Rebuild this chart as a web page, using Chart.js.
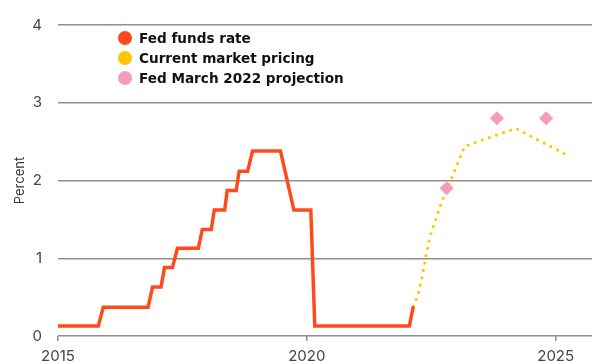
<!DOCTYPE html>
<html>
<head>
<meta charset="utf-8">
<script src="https://cdn.jsdelivr.net/npm/chart.js@4"></script>
<style>
  html, body { margin:0; padding:0; background:#fff; }
  #wrap { position:relative; width:599px; height:361px; }
  #legend { position:absolute; left:118px; top:28px; font-family:"DejaVu Sans", sans-serif; font-weight:700; font-size:13.6px; color:#111; }
  .item { display:flex; align-items:center; height:20px; }
  .dot { width:14px; height:14px; border-radius:50%; margin-right:7px; flex:none; }
</style>
</head>
<body>
<div id="wrap">
  <canvas id="c" width="599" height="361"></canvas>
  <div id="legend"></div>
</div>
<script>
// Fed funds effective rate (decimal year, percent)
const fedDates = [2015.0, 2015.81, 2015.91, 2016.81, 2016.9, 2017.07, 2017.14, 2017.3, 2017.4, 2017.82, 2017.9, 2018.08, 2018.14, 2018.35, 2018.4, 2018.58, 2018.64, 2018.81, 2018.91, 2019.47, 2019.74, 2020.08, 2020.16, 2022.06, 2022.14];
const fedRates = [0.13, 0.13, 0.37, 0.37, 0.63, 0.63, 0.88, 0.88, 1.13, 1.13, 1.37, 1.37, 1.62, 1.62, 1.87, 1.87, 2.12, 2.12, 2.38, 2.38, 1.62, 1.62, 0.13, 0.13, 0.38];
// Current market pricing
const marketDates = [2022.14, 2022.24, 2022.32, 2022.40, 2022.48, 2022.58, 2022.71, 2022.88, 2023.0, 2023.12, 2023.17, 2024.2, 2025.19];
const marketRates = [0.38, 0.54, 0.77, 1.05, 1.29, 1.48, 1.73, 1.98, 2.17, 2.36, 2.44, 2.67, 2.34];
// Fed March 2022 projection
const projDates = [2022.81, 2023.82, 2024.81];
const projRates = [1.9, 2.8, 2.8];
// Tick labels
const xTicks = [2015, 2020, 2025];
const yTicks = [0, 1, 2, 3, 4];

const labels = ["Fed funds rate", "Current market pricing", "Fed March 2022 projection"];
const colors = ["#FF4A1C", "#FFC700", "#F79BBA"];

const zip = (xs, ys) => xs.map((x, i) => ({x, y: ys[i]}));
const gridColor = "#8f8f8f";
const font = "Inter, 'DejaVu Sans', sans-serif";

new Chart(document.getElementById('c'), {
  type: 'line',
  data: {
    datasets: [
      { label: labels[0], data: zip(fedDates, fedRates), borderColor: colors[0], borderWidth: 3.5, pointRadius: 0, tension: 0, borderJoinStyle: 'miter', order: 2 },
      { label: labels[1], data: zip(marketDates, marketRates), borderColor: colors[1], borderWidth: 3.2, borderDash: [0, 7.5], borderCapStyle: 'round', pointRadius: 0, tension: 0, order: 3 },
      { label: labels[2], data: zip(projDates, projRates), showLine: false, pointStyle: 'rectRot', pointRadius: 7, pointBackgroundColor: colors[2], pointBorderColor: colors[2], pointBorderWidth: 0, order: 1 }
    ]
  },
  options: {
    responsive: false,
    animation: false,
    layout: { padding: { top: 18, right: 0, left: 0, bottom: 0 } },
    plugins: { legend: { display: false }, tooltip: { enabled: false } },
    scales: {
      x: {
        type: 'linear', min: 2015, max: 2025.73,
        afterBuildTicks: s => { s.ticks = xTicks.map(v => ({value: v})); },
        afterFit: s => { s.height = 25; },
        grid: { drawOnChartArea: false, drawTicks: true, tickLength: 5, color: gridColor, lineWidth: 1.5 },
        border: { display: false },
        ticks: { padding: 6, color: '#444', font: { family: font, size: 15 }, callback: v => String(v), maxRotation: 0 }
      },
      y: {
        min: 0, max: 4,
        afterBuildTicks: s => { s.ticks = yTicks.map(v => ({value: v})); },
        afterFit: s => { s.width = 58; },
        grid: { color: gridColor, lineWidth: 1.5, drawTicks: false },
        border: { display: false },
        ticks: { padding: 16, color: '#444', font: { family: font, size: 15 } },
        title: { display: true, text: 'Percent', color: '#333', font: { family: font, size: 13 }, padding: { top: 12, bottom: 0 } }
      }
    }
  }
});

const leg = document.getElementById('legend');
labels.forEach((t, i) => {
  const d = document.createElement('div'); d.className = 'item';
  const s = document.createElement('span'); s.className = 'dot'; s.style.background = colors[i];
  const l = document.createElement('span'); l.textContent = t;
  d.appendChild(s); d.appendChild(l); leg.appendChild(d);
});
</script>
</body>
</html>
